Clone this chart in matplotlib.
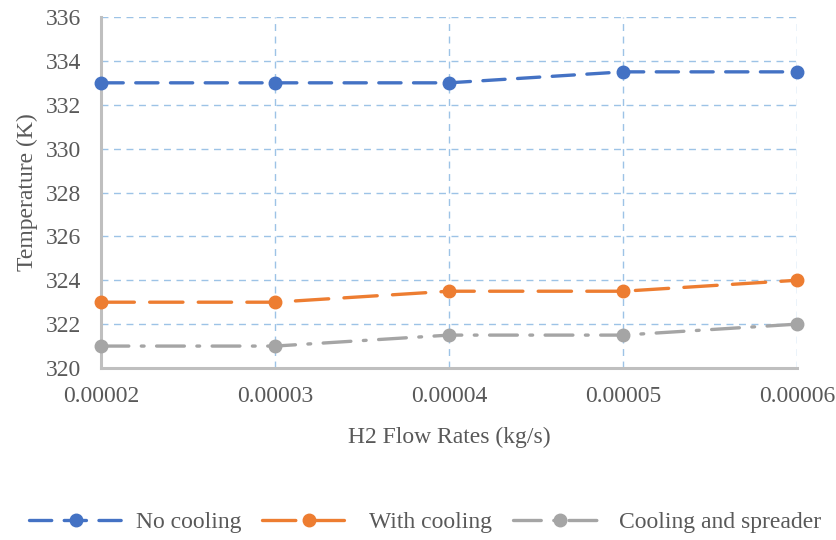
import matplotlib
matplotlib.use("Agg")
import matplotlib.pyplot as plt

# ── Data ────────────────────────────────────────────────────────────────────
flow_rates = [0.00002, 0.00003, 0.00004, 0.00005, 0.00006]
x_tick_labels = ["0.00002", "0.00003", "0.00004", "0.00005", "0.00006"]
no_cooling = [333.0, 333.0, 333.0, 333.5, 333.5]
with_cooling = [323.0, 323.0, 323.5, 323.5, 324.0]
cooling_spreader = [321.0, 321.0, 321.5, 321.5, 322.0]
y_ticks = [320, 322, 324, 326, 328, 330, 332, 334, 336]

plt.rcParams["font.family"] = ["Liberation Serif", "DejaVu Serif"]
plt.rcParams["lines.scale_dashes"] = False

TEXT = "#595959"
GRID = "#9DC3E6"
AXIS = "#BFBFBF"

series = [
    ("No cooling", no_cooling, "#4472C4", (0, (16, 9))),
    ("With cooling", with_cooling, "#ED7D31", (0, (24, 11))),
    ("Cooling and spreader", cooling_spreader, "#A5A5A5", (0, (20, 9, 2, 9))),
]

fig = plt.figure(figsize=(8.37, 5.4), dpi=100)
ax = fig.add_axes([0.1207, 0.3185, 0.8315, 0.65])

for name, vals, color, ls in series:
    ax.plot(flow_rates, vals, color=color, linewidth=2.4, linestyle=ls,
            dash_capstyle="round", marker="o", markersize=9, label=name,
            zorder=3, clip_on=False)

ax.set_xlim(0.00002, 0.00006)
ax.set_ylim(320, 336)
ax.set_xticks(flow_rates)
ax.set_xticklabels(x_tick_labels)
ax.set_yticks(y_ticks)
ax.tick_params(length=0, labelsize=17, colors=TEXT)
ax.tick_params(axis="x", pad=13)
ax.tick_params(axis="y", pad=14)

ax.grid(True, color=GRID, linestyle=(0, (5, 4)), linewidth=1)
for side in ["top", "right"]:
    ax.spines[side].set_visible(False)
for side in ["left", "bottom"]:
    ax.spines[side].set_color(AXIS)
    ax.spines[side].set_linewidth(2.2)
ax.set_axisbelow(True)

ax.set_xlabel("H2 Flow Rates (kg/s)", fontsize=17, color=TEXT, labelpad=14)
ax.set_ylabel("Temperature (K)", fontsize=17, color=TEXT, labelpad=6)

handles, labels = ax.get_legend_handles_labels()
fig.legend(handles, labels, loc="center", ncol=3,
           bbox_to_anchor=(0.508, 0.032), frameon=False, fontsize=17,
           handlelength=4.0, columnspacing=0.9, handletextpad=0.5,
           labelcolor=TEXT)

fig.savefig("out.png", dpi=100)
